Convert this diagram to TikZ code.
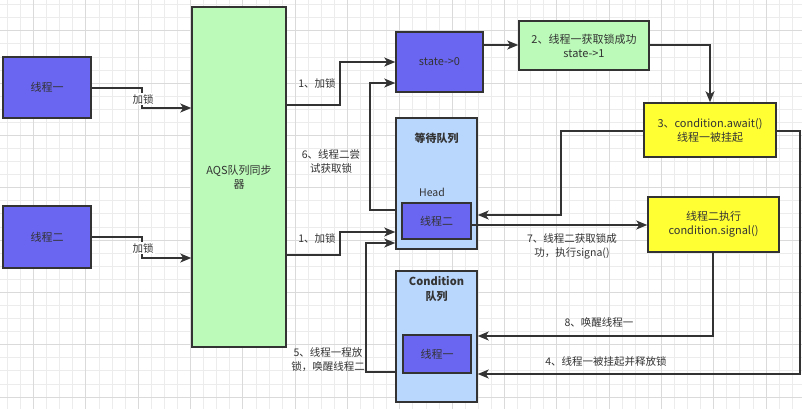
\documentclass[tikz,border=0pt]{standalone}
\usepackage{fontspec}
\setmainfont{Noto Sans CJK SC}
\usetikzlibrary{arrows.meta}

\definecolor{purp}{RGB}{106,102,242}
\definecolor{mint}{RGB}{187,250,184}
\definecolor{lemon}{RGB}{255,255,51}
\definecolor{sky}{RGB}{185,214,252}
\definecolor{ink}{RGB}{51,51,51}
\definecolor{gridminor}{RGB}{236,236,236}
\definecolor{gridmajor}{RGB}{218,218,218}

\tikzset{
  box/.style={draw=ink, line width=1.5pt, text=ink, inner sep=2pt, align=center,
    font=\fontsize{11}{14}\selectfont},
  thread/.style={box, fill=purp},
  okbox/.style={box, fill=mint},
  warnbox/.style={box, fill=lemon},
  queue/.style={box, fill=sky},
  conn/.style={draw=ink, line width=1.5pt, -{Stealth[length=11pt,width=9pt,inset=3pt]}},
  lbl/.style={text=ink, align=center, inner sep=1pt, font=\fontsize{10.5}{14}\selectfont},
  title/.style={text=ink, align=center, inner sep=0pt, font=\bfseries\fontsize{11}{15}\selectfont},
}

\begin{document}
\begin{tikzpicture}[x=1pt, y=-1pt]
  % canvas and background grid
  \fill[white] (0,0) rectangle (802,409);
  \useasboundingbox (0,0) rectangle (802,409);
  \begin{scope}
    \clip (0,0) rectangle (802,409);
    \foreach \i in {0,...,61} {
      \pgfmathsetmacro{\gx}{7.3+13.08*\i}
      \draw[gridminor, line width=0.6pt] (\gx,0) -- (\gx,409);
    }
    \foreach \i in {0,...,31} {
      \pgfmathsetmacro{\gy}{4.5+13.08*\i}
      \draw[gridminor, line width=0.6pt] (0,\gy) -- (802,\gy);
    }
    \foreach \i in {0,...,15} {
      \pgfmathsetmacro{\gx}{33.5+52.32*\i}
      \draw[gridmajor, line width=0.7pt] (\gx,0) -- (\gx,409);
    }
    \foreach \i in {0,...,7} {
      \pgfmathsetmacro{\gy}{30.7+52.32*\i}
      \draw[gridmajor, line width=0.7pt] (0,\gy) -- (802,\gy);
    }
  \end{scope}

  % threads and the synchronizer
  \node[thread, minimum width=88pt, minimum height=61pt] (t1) at (47,87.5) {线程一};
  \node[thread, minimum width=88pt, minimum height=62pt] (t2) at (47,237) {线程二};
  \node[okbox, minimum width=94pt, minimum height=340pt] (aqs) at (239,177) {AQS队列同步\\器};

  % state and outcome boxes
  \node[thread, minimum width=87pt, minimum height=60pt] (st) at (439.5,62) {state->0};
  \node[okbox, minimum width=130pt, minimum height=49pt] (ok) at (584,45.5) {2、线程一获取锁成功\\state->1};
  \node[warnbox, minimum width=132pt, minimum height=54pt] (aw) at (710,130) {3、condition.await()\\线程一被挂起};
  \node[warnbox, minimum width=131pt, minimum height=55pt] (sig) at (713.5,224.5) {线程二执行\\condition.signal()};

  % wait queue
  \node[queue, minimum width=81pt, minimum height=131pt] (wq) at (436.5,183.5) {};
  \node[title] (wqt) at (436.5,138) {等待队列};
  \node[lbl] (head) at (432,192) {Head};
  \node[thread, minimum width=69pt, minimum height=36pt] (wt2) at (436.5,221) {线程二};

  % condition queue
  \node[queue, minimum width=81pt, minimum height=131pt] (cq) at (436.5,336.5) {};
  \node[title] (cqt) at (436.5,289.5) {Condition\\队列};
  \node[thread, minimum width=68pt, minimum height=38pt] (ct1) at (437,354) {线程一};

  % threads lock through the synchronizer
  \draw[conn] (t1.east |- 0,88) -- (142,88) -- (142,108) -- (aqs.west |- 0,108);
  \node[lbl, fill=white] (l1) at (143,99) {加锁};
  \draw[conn] (t2.east |- 0,237) -- (142,237) -- (142,258) -- (aqs.west |- 0,258);
  \node[lbl, fill=white] (l2) at (143,248) {加锁};

  \draw[conn] (aqs.east |- 0,105) -- (340,105) -- (340,62) -- (st.west |- 0,62);
  \node[lbl] (l3) at (317,83) {1、加锁};
  \draw[conn] (aqs.east |- 0,255) -- (340,255) -- (340,232) -- (wq.west |- 0,232);
  \node[lbl] (l4) at (317,238) {1、加锁};

  \draw[conn] (wq.west |- 0,210) -- (370,210) -- (370,83) -- (st.west |- 0,83);
  \node[lbl] (l5) at (331,162) {6、线程二尝\\试获取锁};

  \draw[conn] (cq.west |- 0,372) -- (366,372) -- (366,243) -- (wq.west |- 0,243);
  \node[lbl] (l6) at (328,360) {5、线程一程放\\锁，唤醒线程二};

  % success, await and signal flow
  \draw[conn] (st.east |- 0,45) -- (ok.west |- 0,45);
  \draw[conn] (ok.east |- 0,45) -- (710,45) -- (aw.north);
  \draw[conn] (aw.west |- 0,131) -- (561,131) -- (561,215) -- (wq.east |- 0,215);
  \draw[conn] (aw.east |- 0,131) -- (800,131) -- (800,374) -- (cq.east |- 0,374);
  \node[lbl] (l7) at (606,362) {4、线程一被挂起并释放锁};

  \draw[conn] (wt2.east |- 0,225) -- (sig.west |- 0,225);
  \node[lbl] (l8) at (572,246) {7、线程二获取锁成\\功，执行signa()};

  \draw[conn] (sig.south -| 713,0) -- (713,336) -- (cq.east |- 0,336);
  \node[lbl] (l9) at (599,322) {8、唤醒线程一};
\end{tikzpicture}
\end{document}
